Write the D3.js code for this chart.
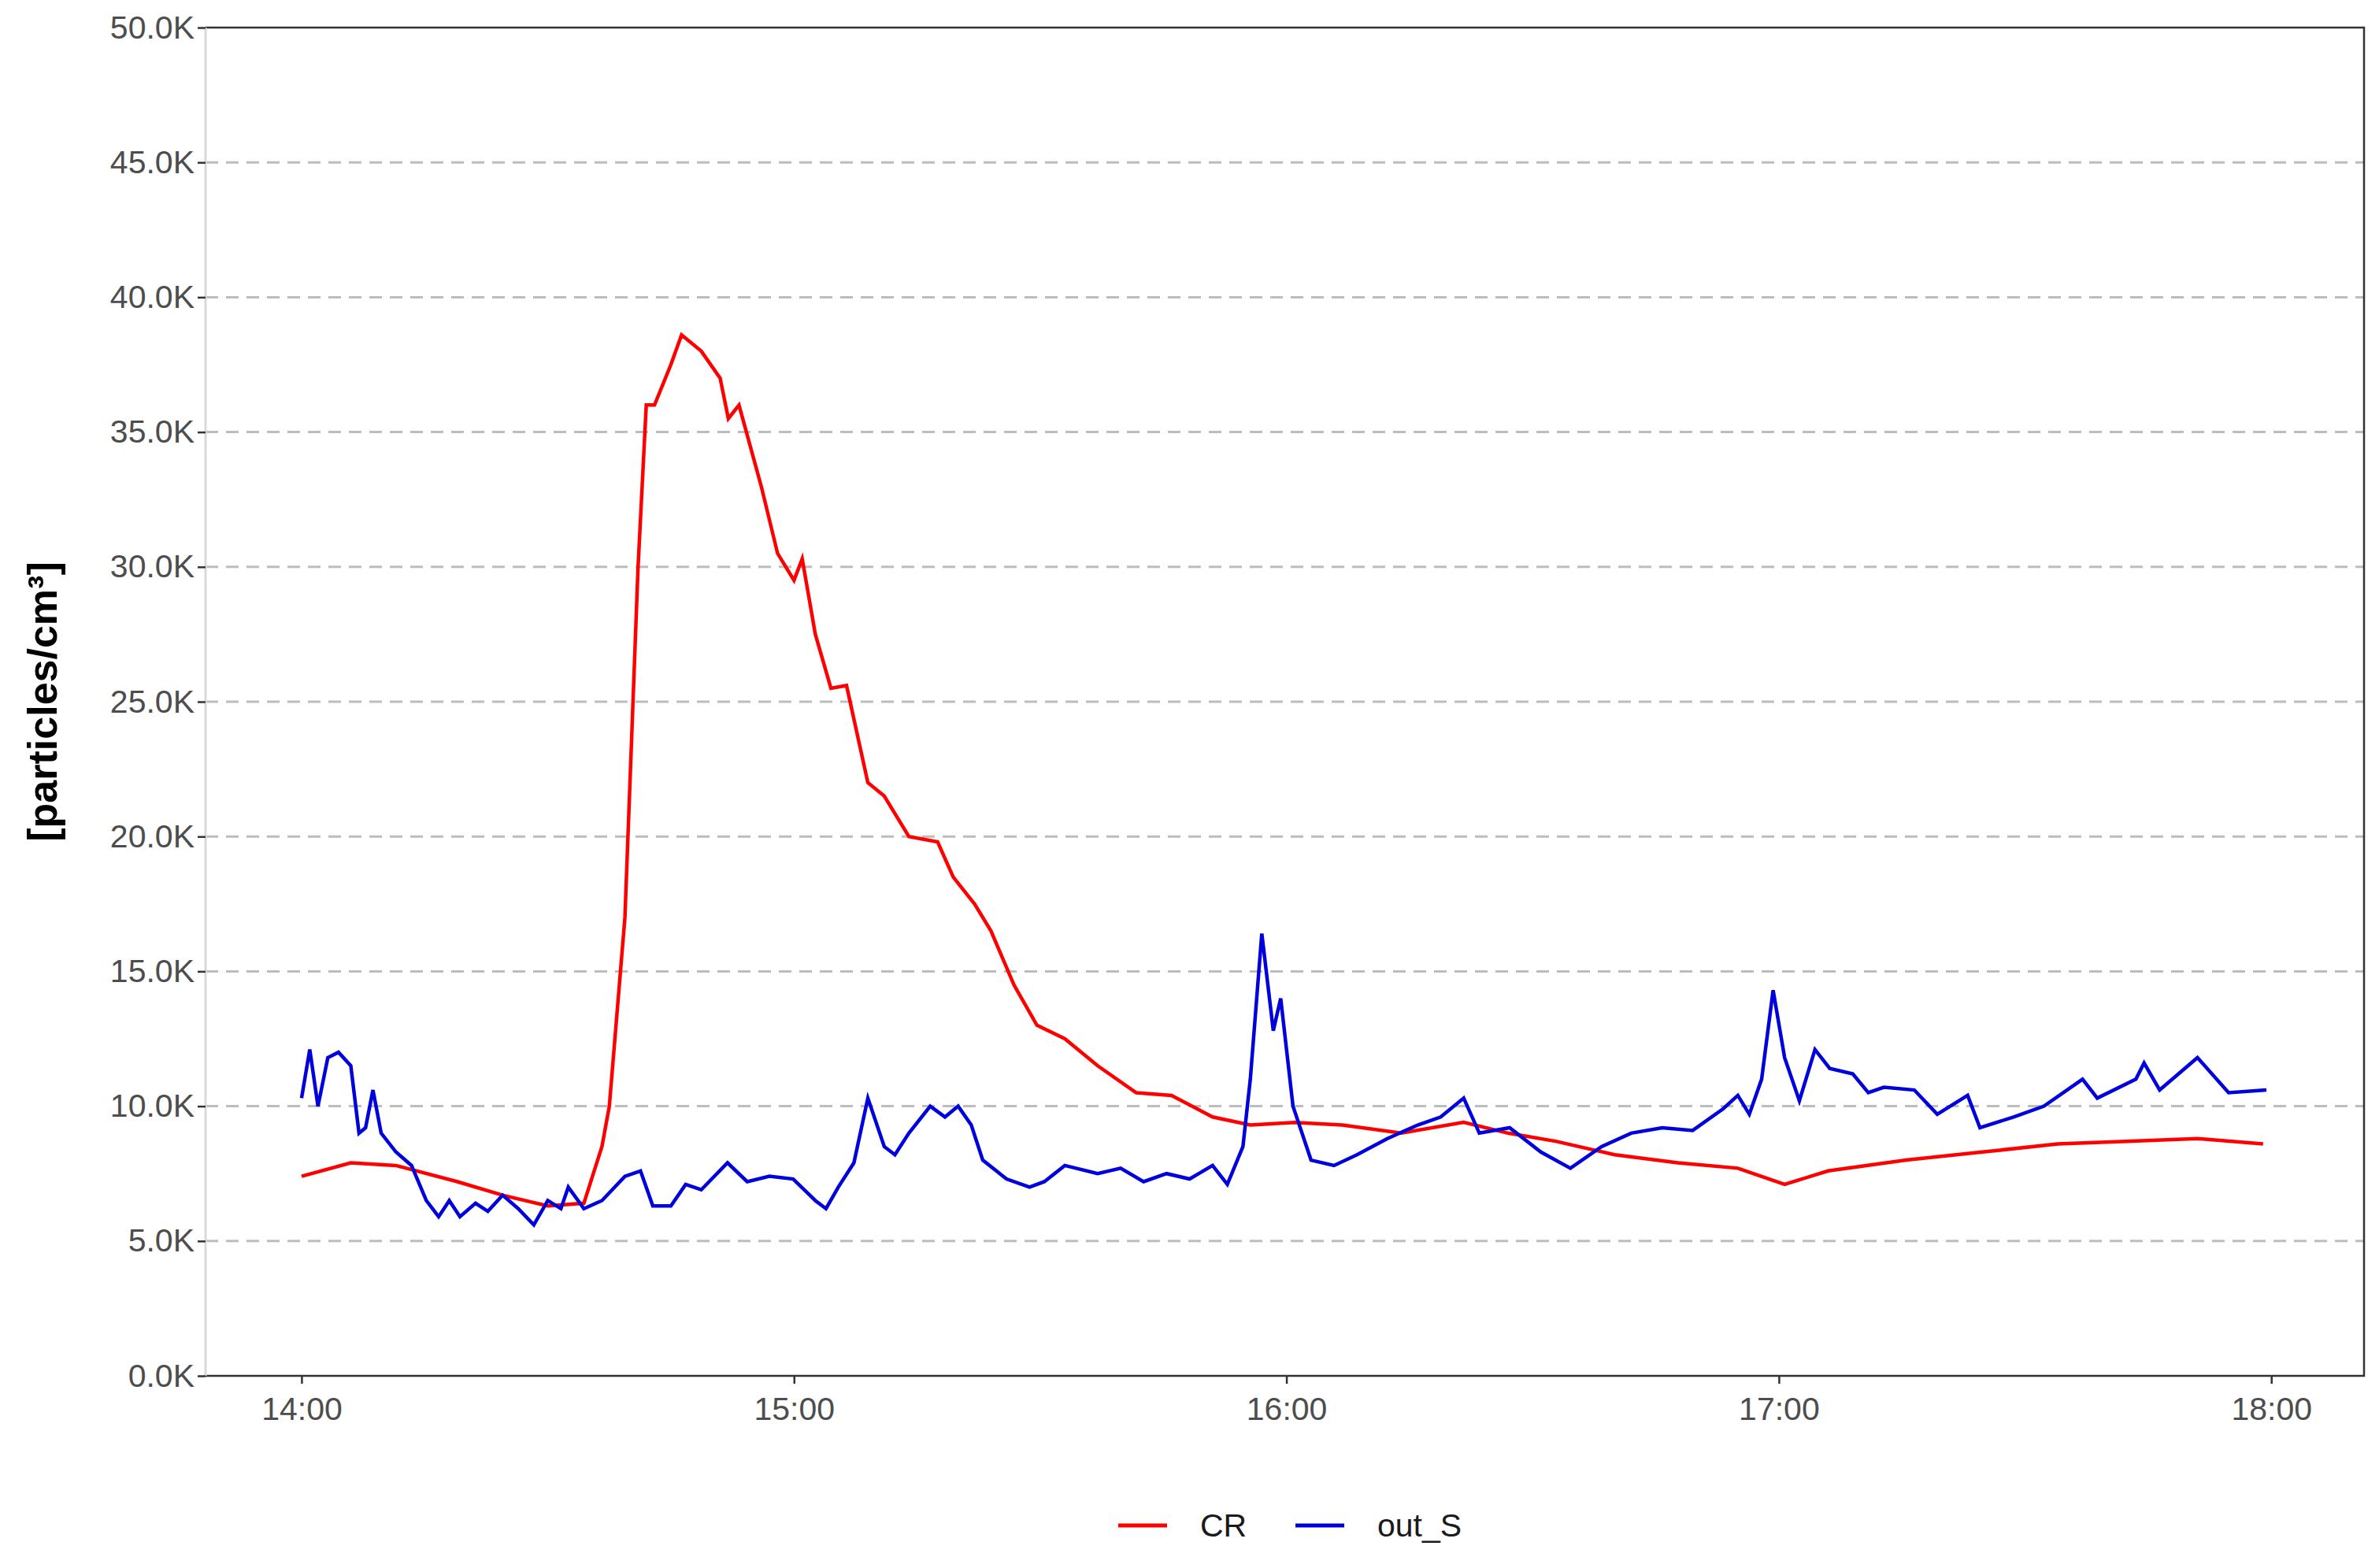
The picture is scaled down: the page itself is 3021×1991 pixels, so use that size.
<!DOCTYPE html>
<html>
<head>
<meta charset="utf-8">
<script src="https://cdn.jsdelivr.net/npm/d3@7"></script>
<style>
  body { margin: 0; background: #fff; }
  text { font-family: Arial, "Liberation Sans", sans-serif; }
</style>
</head>
<body>
<div id="chart"></div>
<script>
// minutes after 14:00, values in thousands of particles/cm3
const crMinutes = [0, 6, 11.5, 19, 24.5, 30, 34.4, 36.6, 37.5, 39.4, 41, 42, 43, 45, 46.3, 48.7, 51, 52, 53.3, 56, 58, 60, 61, 62.6, 64.5, 66.4, 69, 71, 74, 77.5, 79.4, 82, 84, 86.8, 89.6, 93, 97, 101.7, 106, 111, 115.6, 121, 126.8, 134, 141.6, 147, 152.8, 160, 167.7, 175, 180.7, 186, 195.5, 204.8, 214, 223, 231, 239];
const crValues = [7.4, 7.9, 7.8, 7.2, 6.7, 6.3, 6.4, 8.5, 10, 17, 30, 36, 36, 37.5, 38.6, 38, 37, 35.5, 36, 33, 30.5, 29.5, 30.3, 27.5, 25.5, 25.6, 22, 21.5, 20, 19.8, 18.5, 17.5, 16.5, 14.5, 13, 12.5, 11.5, 10.5, 10.4, 9.6, 9.3, 9.4, 9.3, 9.0, 9.4, 9.0, 8.7, 8.2, 7.9, 7.7, 7.1, 7.6, 8.0, 8.3, 8.6, 8.7, 8.8, 8.6];

const outMinutes = [0, 1, 2, 3.2, 4.5, 6, 7, 7.8, 8.7, 9.7, 11.5, 13.4, 15.2, 16.7, 18, 19.3, 21.2, 22.7, 24.5, 26.4, 28.3, 30, 31.6, 32.5, 34.4, 36.6, 39.4, 41.3, 42.8, 45, 46.8, 48.7, 51.9, 54.3, 57, 59.9, 62.6, 63.9, 65.4, 67.3, 69, 71, 72.3, 74, 76.6, 78.4, 80, 81.6, 83, 85.9, 88.7, 90.5, 93, 97, 99.8, 102.6, 105.4, 108.2, 111, 112.8, 114.7, 115.6, 117, 118.4, 119.3, 120.8, 123, 125.8, 128.6, 132.3, 136, 138.8, 141.6, 143.5, 147.2, 151, 154.6, 158.4, 162, 165.8, 169.5, 173.2, 175, 176.4, 177.9, 179.3, 180.7, 182.5, 184.4, 186.2, 189, 190.9, 192.8, 196.5, 199.3, 203, 204.5, 208.6, 212.3, 217, 218.8, 223.5, 224.5, 226.4, 231, 234.8, 239.4];
const outValues = [10.3, 12.1, 10.0, 11.8, 12, 11.5, 9.0, 9.2, 10.6, 9, 8.3, 7.8, 6.5, 5.9, 6.5, 5.9, 6.4, 6.1, 6.7, 6.2, 5.6, 6.5, 6.2, 7.0, 6.2, 6.5, 7.4, 7.6, 6.3, 6.3, 7.1, 6.9, 7.9, 7.2, 7.4, 7.3, 6.5, 6.2, 7.0, 7.9, 10.3, 8.5, 8.2, 9.0, 10.0, 9.6, 10.0, 9.3, 8.0, 7.3, 7.0, 7.2, 7.8, 7.5, 7.7, 7.2, 7.5, 7.3, 7.8, 7.1, 8.5, 11, 16.4, 12.8, 14, 10, 8.0, 7.8, 8.2, 8.8, 9.3, 9.6, 10.3, 9.0, 9.2, 8.3, 7.7, 8.5, 9.0, 9.2, 9.1, 9.9, 10.4, 9.7, 11, 14.3, 11.8, 10.2, 12.1, 11.4, 11.2, 10.5, 10.7, 10.6, 9.7, 10.4, 9.2, 9.6, 10.0, 11.0, 10.3, 11.0, 11.6, 10.6, 11.8, 10.5, 10.6];

const xTickMinutes = [0, 60, 120, 180, 240];
const xTickLabels = ["14:00", "15:00", "16:00", "17:00", "18:00"];
const yTicks = [0, 5, 10, 15, 20, 25, 30, 35, 40, 45, 50];
const seriesNames = ["CR", "out_S"];
const seriesColors = ["#ff0000", "#0000dd"];

const W = 3021, H = 1991;
const margin = { top: 35, right: 19, bottom: 244, left: 261 };
const w = W - margin.left - margin.right, h = H - margin.top - margin.bottom;

const svg = d3.select("#chart").append("svg").attr("width", W).attr("height", H);
const g = svg.append("g").attr("transform", `translate(${margin.left},${margin.top})`);

const x = d3.scaleLinear().domain([-11.7, 251.3]).range([0, w]);
const y = d3.scaleLinear().domain([0, 50]).range([h, 0]);

// grid
g.append("g").selectAll("line").data(yTicks.filter(d => d > 0 && d < 50)).join("line")
  .attr("x1", 0).attr("x2", w).attr("y1", d => y(d)).attr("y2", d => y(d))
  .attr("stroke", "#bdbdbd").attr("stroke-width", 3).attr("stroke-dasharray", "16,10");

// frame
g.append("path").attr("d", `M0,0H${w}V${h}H0`).attr("fill", "none").attr("stroke", "#333").attr("stroke-width", 2.5);
g.append("line").attr("x1", 0).attr("x2", 0).attr("y1", 0).attr("y2", h).attr("stroke", "#d9d9d9").attr("stroke-width", 3);

// axes
const yAxis = g.append("g").call(d3.axisLeft(y).tickValues(yTicks).tickFormat(d => d.toFixed(1) + "K").tickSize(10));
yAxis.select(".domain").remove();
yAxis.selectAll("line").attr("stroke", "#333").attr("stroke-width", 2.5);
yAxis.selectAll("text").attr("font-size", 41).attr("fill", "#4d4d4d").attr("x", -14);

const xAxis = g.append("g").attr("transform", `translate(0,${h})`)
  .call(d3.axisBottom(x).tickValues(xTickMinutes).tickFormat((d, i) => xTickLabels[i]).tickSize(10));
xAxis.select(".domain").remove();
xAxis.selectAll("line").attr("stroke", "#333").attr("stroke-width", 2.5);
xAxis.selectAll("text").attr("font-size", 41).attr("fill", "#4d4d4d").attr("dy", "1.05em");

// y label
svg.append("text").attr("transform", `translate(72,${margin.top + h / 2}) rotate(-90)`)
  .attr("text-anchor", "middle").attr("font-size", 52).attr("font-weight", "bold")
  .text("[particles/cm³]");

// lines
const line = d3.line().x(d => x(d[0])).y(d => y(d[1]));
const series = [d3.zip(crMinutes, crValues), d3.zip(outMinutes, outValues)];
g.selectAll(".series").data(series).join("path")
  .attr("d", line).attr("fill", "none")
  .attr("stroke", (d, i) => seriesColors[i]).attr("stroke-width", 4.5);

// legend
const leg = svg.append("g").attr("transform", `translate(1420,1937)`);
const offs = [0, 225];
seriesNames.forEach((n, i) => {
  const lg = leg.append("g").attr("transform", `translate(${offs[i]},0)`);
  lg.append("line").attr("x1", 0).attr("x2", 62).attr("stroke", seriesColors[i]).attr("stroke-width", 5);
  lg.append("text").attr("x", 104).attr("dy", "0.35em").attr("font-size", 41).attr("fill", "#1a1a1a").text(n);
});
</script>
</body>
</html>
